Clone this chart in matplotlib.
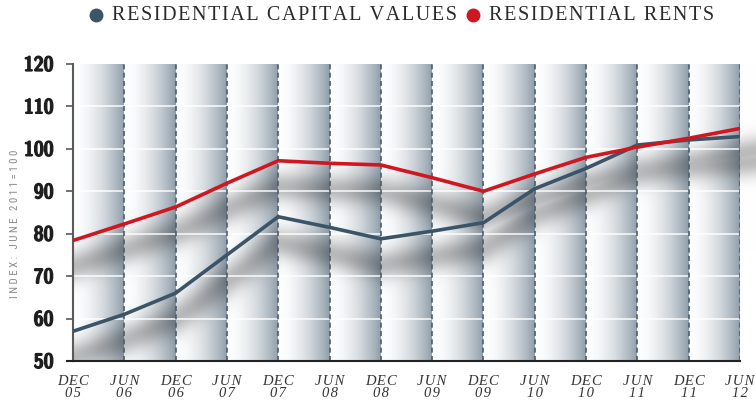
import numpy as np
import matplotlib
matplotlib.use("Agg")
import matplotlib.pyplot as plt
from matplotlib.lines import Line2D
from matplotlib.colors import to_rgb
from matplotlib import font_manager
import matplotlib.patheffects as pe

# ---- data -------------------------------------------------------------
periods = ["DEC\n05", "JUN\n06", "DEC\n06", "JUN\n07", "DEC\n07", "JUN\n08", "DEC\n08",
           "JUN\n09", "DEC\n09", "JUN\n10", "DEC\n10", "JUN\n11", "DEC\n11", "JUN\n12"]
capital_values = [57.0, 61.0, 66.0, 75.0, 84.0, 81.5, 78.8, 80.6, 82.6, 90.6, 95.4, 100.9, 102.1, 102.9]
rents = [78.4, 82.3, 86.3, 91.9, 97.2, 96.6, 96.2, 93.2, 90.0, 94.1, 98.0, 100.4, 102.5, 104.8]
y_ticks = [50, 60, 70, 80, 90, 100, 110, 120]

BLUE = "#3b5467"
RED = "#d0161f"
HAIR = "\u200a"


def pick_narrow_font(bold):
    """Return the file of a condensed/narrow sans face if one is installed."""
    best = None
    for f in font_manager.fontManager.ttflist:
        name = (f.name + " " + str(f.fname)).lower()
        if f.style != "normal" or "mono" in name or "serif" in name:
            continue
        narrow = ("narrow" in name or "condensed" in name or f.stretch in
                  ("condensed", "semi-condensed", "extra-condensed", "ultra-condensed"))
        if not narrow:
            continue
        w = f.weight if isinstance(f.weight, int) else 400
        if bold and w < 600:
            continue
        if not bold and w > 500:
            continue
        best = f.fname
        if "liberation" in name:
            break
    return best


narrow_bold = pick_narrow_font(True)
narrow_reg = pick_narrow_font(False)
if narrow_bold:
    tick_fp = font_manager.FontProperties(fname=narrow_bold, size=15)
else:
    tick_fp = font_manager.FontProperties(family="DejaVu Sans", weight="bold", size=11.5)
if narrow_reg:
    ylab_fp = font_manager.FontProperties(fname=narrow_reg, size=7.8)
else:
    ylab_fp = font_manager.FontProperties(family="DejaVu Sans", size=6.5)

W, H, DPI = 756, 409, 100
fig = plt.figure(figsize=(W / DPI, H / DPI), dpi=DPI)
L, R, T, B = 73, 740, 64, 361
ax = fig.add_axes([L / W, 1 - B / H, (R - L) / W, (B - T) / H])
x = np.arange(len(periods))

# ---- background: shaded columns with soft drop shadow of the lines ----
px_per_x = (R - L) / (len(periods) - 1)
px_per_y = (B - T) / (120 - 50)
extra_right = W - R
img_w = (R - L) + extra_right
img_h = B - T
gx = np.arange(img_w) + 0.5
gy = np.arange(img_h) + 0.5
GX, GY = np.meshgrid(gx, gy)

white = np.array([0.995, 0.998, 1.0])
dark = np.array(to_rgb("#909eaa"))
frac = (gx / px_per_x) % 1.0
t = np.clip(frac, 0, 1) ** 1.8
row = white[None, :] * (1 - t[:, None]) + dark[None, :] * t[:, None]
row[gx > (R - L)] = 1.0
base = np.repeat(row[None, :, :], img_h, axis=0)


def polyline_dist(xs, ys):
    d = np.full(GX.shape, np.inf)
    for i in range(len(xs) - 1):
        x0, y0, x1, y1 = xs[i], ys[i], xs[i + 1], ys[i + 1]
        vx, vy = x1 - x0, y1 - y0
        tt = ((GX - x0) * vx + (GY - y0) * vy) / (vx * vx + vy * vy)
        tt = np.clip(tt, 0, 1)
        dd = np.hypot(GX - (x0 + tt * vx), GY - (y0 + tt * vy))
        d = np.minimum(d, dd)
    return d


shadow = np.zeros(GX.shape)
offset = 26
for series in (capital_values, rents):
    sx = x * px_per_x
    sy = (120 - np.array(series)) * px_per_y + offset
    sx = np.append(sx, sx[-1] + extra_right + 30)
    sy = np.append(sy, sy[-1] + (sy[-1] - sy[-2]) * (extra_right + 30) / px_per_x)
    d = polyline_dist(sx, sy)
    shadow = np.maximum(shadow, np.exp(-0.5 * (d / 10.5) ** 2))

img = base * (1 - 0.27 * shadow[:, :, None])
ax.imshow(img, extent=[0, img_w / px_per_x, 50, 120], aspect="auto",
          interpolation="bilinear", clip_on=False, zorder=0, origin="upper")
ax.set_xlim(0, len(periods) - 1)
ax.set_ylim(50, 120)

for yv in y_ticks[1:-1]:
    ax.axhline(yv, color="white", lw=1.3, alpha=0.8, zorder=1)
for xv in x[1:]:
    ax.axvline(xv, color="#4a5f70", lw=1.2, ls=(0, (3, 2)), zorder=2)

# ---- series -----------------------------------------------------------
ax.plot(x, capital_values, color=BLUE, lw=2.6, zorder=4)
ax.plot(x, rents, color=RED, lw=2.6, zorder=5)

# ---- axes styling -----------------------------------------------------
for s in ("top", "right"):
    ax.spines[s].set_visible(False)
ax.spines["left"].set_color("#5a5a5a")
ax.spines["left"].set_linewidth(1.5)
ax.spines["bottom"].set_color("#222222")
ax.spines["bottom"].set_linewidth(1.5)
ax.add_line(Line2D([-6 / (R - L), 0], [0, 0], transform=ax.transAxes, color="#222222",
                   lw=1.5, clip_on=False))

ax.set_yticks(y_ticks)
ax.set_yticklabels([str(v) for v in y_ticks])
for lab in ax.get_yticklabels():
    lab.set_fontproperties(tick_fp)
    lab.set_color("#1e1e1e")
    lab.set_path_effects([pe.withStroke(linewidth=0.9, foreground="#1e1e1e")])
ax.tick_params(axis="y", length=5, width=1.3, color="#666666", pad=9)

ax.set_xticks(x)
ax.set_xticklabels(["\n".join(HAIR.join(part) for part in p.split("\n")) for p in periods],
                   fontdict=dict(family=["Liberation Serif", "DejaVu Serif"],
                                 style="italic", size=10.5, color="#333333"),
                   linespacing=0.9)
ax.tick_params(axis="x", length=0, pad=10)

ylabel = "INDEX: JUNE 2011=100"
fig.text(15 / W, 1 - 224 / H, " ".join(ylabel), rotation=90,
         ha="center", va="center", color="#8a8a8a", fontproperties=ylab_fp)

# ---- legend across the top -------------------------------------------
fig.canvas.draw()
renderer = fig.canvas.get_renderer()
legend_y = 1 - 15 / H
cursor = 96
for label, col in (("RESIDENTIAL CAPITAL VALUES", BLUE), ("RESIDENTIAL RENTS", RED)):
    fig.add_artist(Line2D([cursor / W], [legend_y], marker="o", markersize=9,
                          color=col, transform=fig.transFigure, lw=0))
    txt = fig.text((cursor + 16) / W, legend_y, HAIR.join(label), ha="left", va="center",
                   family=["Liberation Serif", "DejaVu Serif"], size=14.5, color="#2a2a2a")
    bb = txt.get_window_extent(renderer)
    cursor = bb.x1 + 16

fig.savefig("out.png", dpi=DPI)
